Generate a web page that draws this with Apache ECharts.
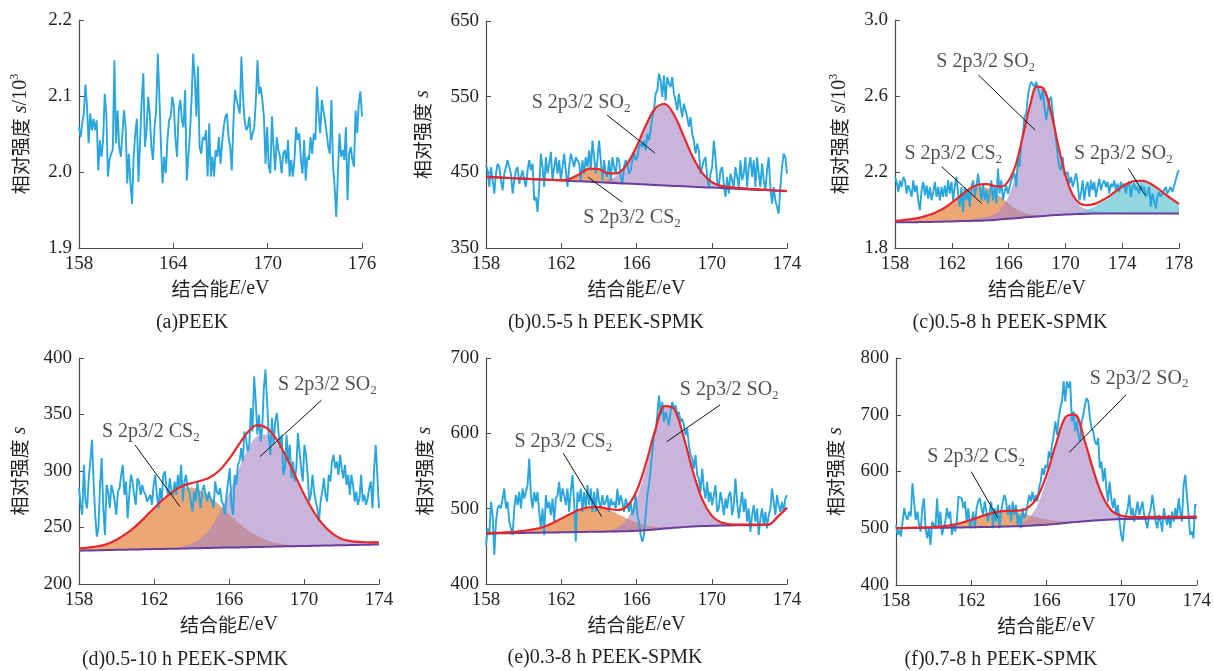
<!DOCTYPE html>
<html>
<head>
<meta charset="utf-8">
<script src="https://cdn.jsdelivr.net/npm/echarts@6/dist/echarts.min.js"></script>
<style>
  html, body { margin: 0; padding: 0; background: #fff; }
  #chart { width: 1214px; height: 671px; }
</style>
</head>
<body>
<div id="chart"></div>
<script>
// ---- raw spectra ----
var aRaw = [2.059,2.046,2.064,2.077,2.115,2.086,2.038,2.077,2.055,2.070,2.055,2.068,2.002,2.042,2.020,2.042,2.103,2.077,1.994,2.016,2.024,2.029,2.147,2.038,2.081,2.033,2.020,2.051,2.081,2.059,1.985,2.024,1.985,1.958,2.020,2.051,2.070,1.987,1.989,2.095,2.130,2.033,2.055,2.099,2.077,2.033,2.016,2.059,2.081,2.156,2.099,2.033,1.985,2.020,1.998,2.042,2.068,2.073,2.099,2.086,2.042,2.020,2.081,2.095,2.068,2.059,2.108,1.989,2.020,2.051,2.095,2.156,2.125,2.073,2.139,2.033,2.024,2.046,2.042,2.055,1.994,2.064,1.994,2.020,1.994,2.029,2.020,2.046,2.011,2.038,2.059,2.073,2.077,2.046,2.033,2.002,2.064,2.108,2.095,2.086,2.077,2.152,2.099,2.068,2.055,2.059,2.073,2.042,2.042,2.059,2.095,2.147,2.103,2.112,2.095,2.073,2.011,2.059,2.007,1.998,2.073,2.033,2.002,2.046,2.029,2.020,1.998,2.024,2.029,2.011,2.042,1.994,2.016,1.994,2.016,2.059,2.042,2.051,2.016,1.998,2.042,1.989,2.020,2.016,2.046,2.024,2.051,2.042,2.112,2.077,2.051,2.095,2.081,2.068,2.051,2.033,2.024,2.095,2.007,1.980,1.941,1.998,2.051,2.020,2.029,2.016,2.059,1.963,2.024,2.033,2.016,2.007,2.081,2.051,2.090,2.106,2.073];
var bRaw = [459.3,452.6,430.6,457,439.4,421.8,448.2,461.5,457,439.4,426.2,448.2,457,466,468,448.2,421.8,439.4,452.6,457,435,443.8,452.6,439.4,430.6,452.6,466,452.6,461.5,413,417.4,397.6,430.6,474.7,457,430.6,470,448.2,461.5,477,439.4,457,470,448.2,466,439.4,457,474.7,452.6,430.6,457,474.7,466,457,470,470,461.5,439.4,466,448.2,470,457,479,452.6,492,470,448.2,466,492,466,439.4,466,448.2,443.8,466,439.4,470,457,448.2,470,466,443.8,435,457,466,461.5,448.2,452.6,466,474.7,466,470,483.5,488,483.5,492,479,501,492,505.5,523,532,554,558.4,580.4,571.6,549.6,578,545,576,567,562.8,576,554,545,532,554,536.3,523,540.7,532,523,510,523,501,492,474.7,488,479,448.2,457,466,470,443.8,430.6,448.2,457,492,470,439.4,430.6,452.6,457,435,417.4,443.8,421.8,448.2,439.4,430.6,457,443.8,430.6,466,439.4,448.2,470,430.6,457,470,443.8,466,430.6,470,448.2,430.6,461.5,439.4,426.2,452.6,470,430.6,408.6,430.6,413,413,395.4,430.6,457,474.7,470,448.2];
var cRaw = [2.174,2.148,2.095,2.156,2.121,2.174,2.156,2.086,2.130,2.104,2.069,2.156,2.095,2.130,2.051,1.998,2.104,2.148,2.077,2.130,2.060,2.121,2.051,2.095,2.148,2.069,2.121,2.051,2.121,2.069,2.130,2.069,2.156,2.086,2.148,2.051,2.121,2.174,2.086,2.016,2.121,1.989,2.121,2.051,2.104,2.016,2.121,2.156,2.069,2.121,2.192,2.121,2.051,2.139,2.051,2.104,2.033,2.086,2.156,2.051,2.121,2.033,2.218,2.086,2.156,2.051,2.095,2.130,2.086,2.121,2.156,2.174,2.192,2.121,2.279,2.227,2.350,2.402,2.490,2.508,2.596,2.648,2.675,2.684,2.648,2.675,2.666,2.613,2.578,2.631,2.543,2.473,2.525,2.578,2.596,2.508,2.438,2.367,2.279,2.227,2.209,2.279,2.183,2.192,2.200,2.139,2.174,2.121,2.156,2.192,2.139,2.051,2.086,2.156,2.051,2.121,2.148,2.069,2.156,2.104,2.148,2.069,2.121,2.165,2.104,2.139,2.156,2.121,2.148,2.086,2.139,2.121,2.156,2.104,2.139,2.095,2.148,2.121,2.139,2.086,2.130,2.148,2.069,2.121,2.139,2.104,2.121,2.086,2.130,2.104,2.121,2.069,2.086,2.121,2.016,2.086,2.051,2.007,2.069,2.095,2.069,2.086,2.095,2.121,2.086,2.104,2.121,2.095,2.104,2.156,2.192,2.209];
var dRaw = [284.8,270,261.2,305.5,273,267.1,293.6,308.4,327.6,290.7,261.2,241.9,249.3,287.7,311.4,267.1,243.4,287.7,281.8,267.1,287.7,281.8,273,261.2,281.8,284.8,296.6,305.5,278.9,290.7,258.2,278.9,296.6,290.7,278.9,270,293.6,290.7,278.9,287.7,281.8,278.9,273,275.9,278.9,270,287.7,296.6,278.9,267.1,284.8,273,296.6,299.6,284.8,278.9,293.6,281.8,278.9,290.7,278.9,296.6,284.8,305.5,273,290.7,296.6,284.8,281.8,273,264.1,281.8,273,290.7,278.9,267.1,281.8,287.7,278.9,273,281.8,275.9,273,267.1,290.7,281.8,278.9,284.8,273,270,261.2,278.9,290.7,302.5,270,261.2,296.6,287.7,305.5,308.4,320.2,308.4,335,329.1,317.3,323.2,355.7,335,383.8,361.6,332.1,349.8,326.1,338,373.4,389.7,361.6,332.1,314.3,346.8,323.2,343.9,351.3,335,320.2,332.1,296.6,302.5,332.1,308.4,323.2,293.6,308.4,290.7,302.5,333.5,317.3,302.5,290.7,323.2,314.3,296.6,273,278.9,296.6,281.8,273,267.1,255.2,273,281.8,293.6,278.9,273,296.6,290.7,308.4,314.3,302.5,308.4,296.6,314.3,302.5,293.6,305.5,287.7,296.6,278.9,296.6,287.7,273,281.8,270,275.9,296.6,273,278.9,270,275.9,284.8,290.7,267.1,302.5,323.2,324.7,267.1];
var eRaw = [451.7,473.8,464.9,509.1,491.4,438.4,482.6,500.3,504.7,500.3,513.5,526.8,500.3,509.1,482.6,473.8,464.9,500.3,518,504.7,522.4,500.3,526.8,513.5,522.4,531.2,566.5,518,500.3,522.4,509.1,522.4,495.8,473.8,500.3,464.9,518,500.3,509.1,491.4,513.5,482.6,513.5,518,535.6,509.1,526.8,518,504.7,526.8,495.8,522.4,544.5,509.1,456.1,522.4,509.1,526.8,495.8,522.4,500.3,531.2,504.7,526.8,495.8,522.4,495.8,526.8,509.1,500.3,518,504.7,509.1,518,495.8,513.5,504.7,509.1,500.3,526.8,504.7,518,509.1,495.8,513.5,504.7,495.8,509.1,491.4,500.3,518,491.4,482.6,464.9,456.1,464.9,491.4,518,531.2,553.3,575.4,597.5,601.9,624,650.5,624,641.7,615.2,628.4,619.6,610.7,628.4,641.7,632.8,637.3,624,628.4,615.2,619.6,610.7,597.5,606.3,584.2,571,566.5,553.3,571,544.5,540,522.4,553.3,526.8,513.5,535.6,509.1,522.4,504.7,518,531.2,495.8,500.3,522.4,509.1,491.4,513.5,500.3,518,522.4,491.4,504.7,540,509.1,487,504.7,522.4,495.8,513.5,482.6,500.3,469.3,491.4,504.7,482.6,500.3,464.9,487,500.3,478.2,495.8,473.8,491.4,500.3,526.8,509.1,491.4,518,504.7,495.8,509.1,495.8,513.5,518];
var fRaw = [505.9,488.2,497.1,485.3,511.8,535.3,520.6,514.7,529.4,520.6,579.4,547.1,514.7,529.4,505.9,494.1,535.3,552.9,500,482.4,500,470.6,511.8,511.8,500,552.9,500,529.4,488.2,500,511.8,535.3,517.6,529.4,488.2,505.9,494.1,511.8,555.9,555.9,552.9,535.3,547.1,511.8,535.3,500,511.8,529.4,500,535.3,547.1,552.9,535.3,523.5,547.1,529.4,511.8,529.4,547.1,500,535.3,511.8,541.2,500,529.4,547.1,558.8,547.1,523.5,541.2,511.8,547.1,523.5,541.2,505.9,523.5,500,535.3,517.6,523.5,541.2,558.8,547.1,564.7,547.1,558.8,547.1,570.6,582.4,605.9,594.1,611.8,605.9,635.3,623.5,647.1,664.7,688.2,664.7,694.1,711.8,723.5,758.8,723.5,758.8,747.1,758.8,688.2,705.9,670.6,688.2,664.7,652.9,688.2,700,717.6,729.4,723.5,694.1,676.5,670.6,652.9,647.1,658.8,605.9,617.6,582.4,605.9,570.6,547.1,582.4,552.9,535.3,552.9,523.5,541.2,511.8,488.2,476.5,511.8,523.5,535.3,558.8,523.5,535.3,511.8,529.4,547.1,523.5,535.3,547.1,523.5,511.8,500,523.5,535.3,558.8,535.3,511.8,500,523.5,511.8,494.1,535.3,517.6,505.9,523.5,500,529.4,511.8,535.3,517.6,552.9,529.4,511.8,576.5,594.1,558.8,523.5,488.2,494.1,482.4,541.2,541.2];

// ---- fitted curves, sampled every 0.5 eV ----
var bBase = [444,443.4,442.8,442.2,441.6,441,440.4,439.8,439.2,438.6,438.1,437.5,436.9,436.3,435.7,435.1,434.5,433.9,433.3,432.7,432.1,431.5,430.9,430.4,429.8,429.2,428.6,428,427.4,426.8,426.2,425.6,425];
var bCS2 = [0,0,0,0,0,0,0.1,0.3,0.6,3.3,10,17.2,16.2,8.5,2.4,0.4,0,0,0,0,0,0,0,0,0,0,0,0,0,0,0,0,0];
var bSO2 = [0,0,0,0,0,0,0,0,0,0,0.1,0.3,1.1,3.8,10.9,25.6,49.5,78.2,101.3,107.6,93.6,66.7,39,18.6,7.3,3,1.8,1.2,0.9,0.7,0.5,0.4,0.3];
var bFit = [444,443.4,442.8,442.2,441.6,441,440.5,440.1,439.8,441.9,448.2,455,454.2,448.6,449,461.1,484,512.1,534.6,540.3,525.7,498.2,469.9,449,437.1,432.2,430.4,429.2,428.3,427.5,426.7,426,425.3];

var cBase = [1.935,1.935,1.936,1.936,1.937,1.937,1.938,1.939,1.940,1.941,1.942,1.943,1.944,1.946,1.948,1.951,1.954,1.957,1.960,1.963,1.966,1.969,1.972,1.974,1.976,1.978,1.979,1.980,1.981,1.981,1.981,1.981,1.981,1.981,1.981,1.981,1.981,1.981,1.981,1.981,1.981];
var cCS2 = [0.008,0.011,0.015,0.020,0.027,0.038,0.052,0.070,0.095,0.122,0.150,0.170,0.177,0.170,0.148,0.115,0.080,0.050,0.028,0.015,0.008,0.004,0.002,0.001,0,0,0,0,0,0,0,0,0,0,0,0,0,0,0,0,0];
var cSO2 = [0,0,0,0,0.001,0.001,0.002,0.003,0.004,0.005,0.006,0.009,0.014,0.020,0.030,0.058,0.120,0.230,0.398,0.569,0.675,0.662,0.538,0.362,0.205,0.098,0.045,0.025,0.015,0.010,0.007,0.005,0.004,0.003,0.002,0.002,0.001,0.001,0,0,0];
var cSO2b = [0,0,0,0,0,0,0,0,0,0,0,0,0,0,0,0,0,0,0,0,0,0,0,0,0.003,0.006,0.011,0.021,0.035,0.056,0.081,0.110,0.138,0.160,0.171,0.170,0.156,0.132,0.104,0.076,0.051];
var cFit = [1.943,1.946,1.951,1.956,1.965,1.976,1.992,2.012,2.039,2.068,2.098,2.122,2.135,2.136,2.126,2.124,2.154,2.237,2.386,2.547,2.649,2.635,2.512,2.337,2.184,2.082,2.035,2.026,2.031,2.047,2.069,2.096,2.123,2.144,2.154,2.153,2.138,2.114,2.085,2.057,2.032];

var dBase = [229.5,229.7,229.8,230,230.2,230.4,230.5,230.7,230.9,231,231.2,231.4,231.6,231.7,231.9,232.1,232.3,232.4,232.6,232.8,232.9,233.1,233.3,233.5,233.6,233.8,234,234.1,234.3,234.5,234.7,234.8,235];
var dCS2 = [2,2.6,3.6,5.3,8.9,13.9,20.3,27.9,36,43.7,49.8,53.4,53.7,50.8,45.1,37.6,29.5,21.7,15,9.8,6,3.4,1.8,0.9,0.4,0.2,0.1,0,0,0,0,0,0];
var dSO2 = [0,0,0,0,0,0,0,0,0.2,0.3,0.6,1.6,4,8.9,17.5,30.9,48.7,68.7,86.7,98,99.3,92.3,79.1,62.4,45.4,30.4,18.8,10.7,5.6,3.5,2.5,2,1.8];
var dFit = [231.5,232.3,233.4,235.3,239.1,244.3,250.8,258.6,267.1,275,281.6,286.4,289.3,291.4,294.5,300.6,310.5,322.8,334.3,340.6,338.2,328.8,314.2,296.8,279.4,264.4,252.9,244.8,239.9,238,237.2,236.8,236.8];

var eBase = [467,467.2,467.4,467.6,467.8,468,468.2,468.4,468.6,468.8,469,469.2,469.4,469.6,469.8,470.1,470.6,471.4,472.5,473.6,474.6,475.5,476.3,476.9,477.3,477.6,477.8,478,478.1,478.2,478.4,489,501];
var eCS2 = [0.5,0.7,1,1.6,2.8,4.5,7.2,12,18.1,24.4,29.8,32.7,32.4,28.9,23.2,16.8,11,6.4,3.4,1.6,0.7,0.3,0.1,0,0,0,0,0,0,0,0,0,0];
var eSO2 = [0,0,0,0,0,0,0,0,0,0,0,0,0.2,1.3,5.2,16.5,41.5,82.1,128.6,161,157,119.8,73,35.1,13.4,4,1.5,0.8,0.6,0.5,0.4,0.3,0.2];
var eFit = [467.5,467.9,468.4,469.2,470.6,472.5,475.4,480.4,486.7,493.2,498.8,501.9,502,499.8,498.2,503.4,523.1,559.9,604.5,636.2,632.3,595.6,549.4,512,490.7,481.6,479.3,478.8,478.7,478.7,478.8,489.3,501.2];

var fBase = [500,500.2,500.4,500.6,500.8,501,501.2,501.5,501.8,502.1,502.4,502.8,503.2,503.7,504.3,505.1,506.2,507.6,509.2,510.8,512.3,513.6,514.7,515.5,516.1,516.5,516.8,517.1,517.4,517.6,517.8,518,518.2];
var fCS2 = [0.3,0.4,0.6,0.8,1.4,2.4,4.7,8.3,13.1,18.5,23.4,26.5,26.8,24.2,19.6,14.2,9.2,5.3,2.8,1.3,0.5,0.2,0.1,0,0,0,0,0,0,0,0,0,0];
var fSO2 = [0,0,0,0,0,0,0,0,0,0,0,0.3,0.6,3.1,11.6,34.2,77.3,134.2,183,188,145.3,88.2,41.1,14.7,6,3.5,3,2.8,2.6,2.5,2.4,2.3,2.2];
var fFit = [500.3,500.6,501,501.4,502.2,503.4,505.9,509.8,514.9,520.6,525.8,529.6,530.6,531,535.5,553.5,592.7,647.1,695,700.1,658.1,602,555.9,530.2,522.1,520,519.8,519.9,520,520.1,520.2,520.3,520.4];

// ---- ticks ----
var xTicks16 = [158, 162, 166, 170, 174];
var aXTicks = [158, 164, 170, 176];
var cXTicks = [158, 162, 166, 170, 174, 178];
var aYTicks = [1.9, 2.0, 2.1, 2.2];
var bYTicks = [350, 450, 550, 650];
var cYTicks = [1.8, 2.2, 2.6, 3.0];
var dYTicks = [200, 250, 300, 350, 400];
var eYTicks = [400, 500, 600, 700];
var fYTicks = [400, 500, 600, 700, 800];

var BLUE = '#2aa6de', RED = '#e8272c', PURPLE = '#6a3c9c';
var ORANGE = 'rgba(232,145,85,0.8)', LAV = 'rgba(165,130,195,0.6)', CYAN = 'rgba(110,200,215,0.75)';
var AXIS = '#4a4a4a', TEXT = '#231f20';
var SERIF = '"Liberation Serif", "Times New Roman", serif';
var CJK = '"Noto Sans CJK SC", sans-serif';
var SM = 0.35;

var nameRich = {
  cn: { fontFamily: CJK, fontSize: 19, color: TEXT, lineHeight: 24 },
  it: { fontFamily: SERIF, fontStyle: 'italic', fontSize: 20, color: TEXT, lineHeight: 24 },
  rm: { fontFamily: SERIF, fontSize: 20, color: TEXT, lineHeight: 24 },
  sup: { fontFamily: SERIF, fontSize: 12, color: TEXT, lineHeight: 14, verticalAlign: 'top' }
};
var noteRich = {
  sub: { fontFamily: SERIF, fontSize: 13, color: TEXT, lineHeight: 12, verticalAlign: 'bottom' }
};

function fitGrid(x0, x1) {
  var xs = [];
  for (var e = x0; e <= x1 + 1e-9; e += 0.5) xs.push(+e.toFixed(2));
  return xs;
}
function spread(x0, x1, n) {
  var xs = [];
  for (var i = 0; i < n; i++) xs.push(x0 + (x1 - x0) * i / (n - 1));
  return xs;
}
function zip(xs, ys) {
  return ys.map(function (y, i) { return [xs[i], y]; });
}
// value first so that the stack runs on the intensity, not on the energy
function zipYX(xs, ys) {
  return ys.map(function (y, i) { return [y, xs[i]]; });
}

var option = { animation: false, backgroundColor: '#fff', grid: [], xAxis: [], yAxis: [], series: [], graphic: [] };

function addPanel(p) {
  var g = option.grid.length;
  var xt = p.xTicks, yt = p.yTicks;
  option.grid.push({ left: p.box[0], top: p.box[1], width: p.box[2], height: p.box[3] });
  option.xAxis.push({
    gridIndex: g, type: 'value', min: xt[0], max: xt[xt.length - 1],
    name: '{cn|结合能}{it|E}{rm|/eV}', nameLocation: 'middle', nameGap: 29,
    nameTextStyle: { rich: nameRich },
    axisLine: { lineStyle: { color: AXIS, width: 1.2 } },
    axisTick: { inside: true, length: 5, lineStyle: { color: AXIS }, customValues: xt },
    axisLabel: { customValues: xt, margin: 7, color: TEXT, fontFamily: SERIF, fontSize: 19 },
    splitLine: { show: false }
  });
  option.yAxis.push({
    gridIndex: g, type: 'value', min: yt[0], max: yt[yt.length - 1],
    name: p.yName, nameLocation: 'middle', nameGap: p.nameGap,
    nameTextStyle: { rich: nameRich },
    axisLine: { show: true, lineStyle: { color: AXIS, width: 1.2 } },
    axisTick: { show: true, inside: true, length: 5, lineStyle: { color: AXIS }, customValues: yt },
    axisLabel: {
      customValues: yt, margin: 7, color: TEXT, fontFamily: SERIF, fontSize: 19,
      formatter: function (v) { return p.dec ? v.toFixed(p.dec) : String(Math.round(v)); }
    },
    splitLine: { show: false }
  });
  var ax = { xAxisIndex: g, yAxisIndex: g };
  function s(o) { for (var k in ax) o[k] = ax[k]; option.series.push(o); }

  s({ type: 'line', data: zip(spread(xt[0], xt[xt.length - 1], p.raw.length), p.raw),
      symbol: 'none', silent: true, lineStyle: { color: BLUE, width: 1.9 } });

  if (p.base) {
    var fx = fitGrid(xt[0], xt[xt.length - 1]);
    p.peaks.forEach(function (pk, k) {
      var st = 'stk' + g + '_' + k;
      s({ type: 'line', stack: st, data: zipYX(fx, p.base), encode: { x: 1, y: 0 },
          symbol: 'none', silent: true, smooth: SM, lineStyle: { width: 0, opacity: 0 } });
      s({ type: 'line', stack: st, data: zipYX(fx, pk.v), encode: { x: 1, y: 0 },
          symbol: 'none', silent: true, smooth: SM, lineStyle: { width: 0, opacity: 0 },
          areaStyle: { color: pk.color, opacity: 1 } });
    });
    s({ type: 'line', data: zip(fx, p.base), symbol: 'none', silent: true, smooth: SM,
        lineStyle: { color: PURPLE, width: 2 } });
    s({ type: 'line', data: zip(fx, p.fit), symbol: 'none', silent: true, smooth: SM,
        lineStyle: { color: RED, width: 2.2 } });
  }

  (p.notes || []).forEach(function (n) {
    s({ type: 'scatter', data: [n.at], symbolSize: 0, silent: true,
        label: { show: true, position: 'inside', formatter: 'S 2p3/2 ' + n.t + '{sub|2}',
                 fontFamily: SERIF, fontSize: 20, color: TEXT, lineHeight: 24, rich: noteRich },
        markLine: { silent: true, symbol: ['none', 'none'], label: { show: false },
                    lineStyle: { color: '#111', width: 1, type: 'solid' },
                    data: [[{ coord: n.line[0] }, { coord: n.line[1] }]] } });
  });

  option.graphic.push({ type: 'text', x: p.cap[0], y: p.cap[1],
    style: { text: p.caption, font: '20px ' + SERIF, fill: TEXT, align: 'center', verticalAlign: 'middle' } });
}

var yNameK = '{cn|相对强度}{it| s}{rm|/10}{sup|3}';
var yName = '{cn|相对强度}{it| s}';

addPanel({ box: [79, 20, 283, 228], xTicks: aXTicks, yTicks: aYTicks, dec: 1, yName: yNameK, nameGap: 46,
  raw: aRaw, caption: '(a)PEEK', cap: [192, 323] });

addPanel({ box: [486, 21, 301, 227], xTicks: xTicks16, yTicks: bYTicks, yName: yName, nameGap: 51,
  raw: bRaw, base: bBase, fit: bFit,
  peaks: [{ v: bCS2, color: ORANGE }, { v: bSO2, color: LAV }],
  notes: [{ t: 'SO', at: [163.05, 541.6], line: [[164.43, 525.8], [166.98, 475.5]] },
          { t: 'CS', at: [165.76, 389.6], line: [[163.42, 443.8], [165.23, 410.8]] }],
  caption: '(b)0.5-5 h PEEK-SPMK', cap: [606, 323] });

addPanel({ box: [895, 20, 284, 228], xTicks: cXTicks, yTicks: cYTicks, dec: 1, yName: yNameK, nameGap: 43,
  raw: cRaw, base: cBase, fit: cFit,
  peaks: [{ v: cCS2, color: ORANGE }, { v: cSO2, color: LAV }, { v: cSO2b, color: CYAN }],
  notes: [{ t: 'SO', at: [164.39, 2.781], line: [[163.87, 2.711], [167.86, 2.421]] },
          { t: 'CS', at: [162.1, 2.295], line: [[161.29, 2.228], [164.1, 2.035]] },
          { t: 'SO', at: [174.08, 2.295], line: [[174.43, 2.219], [175.6, 2.079]] }],
  caption: '(c)0.5-8 h PEEK-SPMK', cap: [1010, 323] });

addPanel({ box: [79, 358, 300, 226], xTicks: xTicks16, yTicks: dYTicks, yName: yName, nameGap: 47,
  raw: dRaw, base: dBase, fit: dFit,
  peaks: [{ v: dCS2, color: ORANGE }, { v: dSO2, color: LAV }],
  notes: [{ t: 'CS', at: [161.83, 334.8], line: [[160.99, 323], [163.39, 268.4]] },
          { t: 'SO', at: [171.25, 376.1], line: [[170.94, 362.8], [167.65, 312.7]] }],
  caption: '(d)0.5-10 h PEEK-SPMK', cap: [185, 660] });

addPanel({ box: [486, 358, 301, 226], xTicks: xTicks16, yTicks: eYTicks, yName: yName, nameGap: 49,
  raw: eRaw, base: eBase, fit: eFit,
  peaks: [{ v: eCS2, color: ORANGE }, { v: eSO2, color: LAV }],
  notes: [{ t: 'SO', at: [170.93, 657.5], line: [[170.44, 637.6], [167.61, 588.9]] },
          { t: 'CS', at: [162.11, 588.9], line: [[162.11, 573.5], [164.15, 489.3]] }],
  caption: '(e)0.3-8 h PEEK-SPMK', cap: [605, 658] });

addPanel({ box: [896, 358, 303, 227], xTicks: xTicks16, yTicks: fYTicks, yName: yName, nameGap: 48,
  raw: fRaw, base: fBase, fit: fFit,
  peaks: [{ v: fCS2, color: ORANGE }, { v: fSO2, color: LAV }],
  notes: [{ t: 'SO', at: [170.93, 764.2], line: [[170.23, 734.8], [167.22, 633.8]] },
          { t: 'CS', at: [162.26, 626.1], line: [[162.0, 599.7], [163.41, 518.6]] }],
  caption: '(f)0.7-8 h PEEK-SPMK', cap: [1001, 660] });

var chart = echarts.init(document.getElementById('chart'), null, { renderer: 'canvas' });
chart.setOption(option);
</script>
</body>
</html>
